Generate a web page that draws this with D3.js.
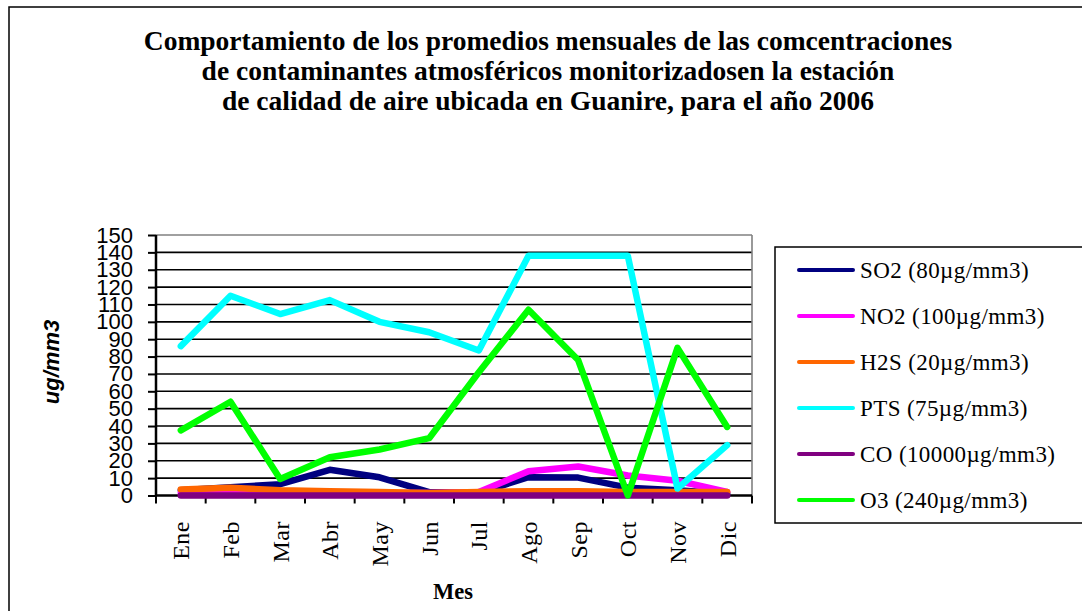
<!DOCTYPE html>
<html><head><meta charset="utf-8">
<script src="https://cdn.jsdelivr.net/npm/d3@7"></script>
<style>
html,body{margin:0;padding:0;background:#fff;}
svg{display:block;}
</style></head>
<body>
<svg id="chart" width="1082" height="611"></svg>
<script>
const months = ["Ene","Feb","Mar","Abr","May","Jun","Jul","Ago","Sep","Oct","Nov","Dic"];
const so2 = [3, 4.8, 6.5, 14.8, 10.5, 2, 1.5, 10.5, 10.3, 4.5, 3, 1];
const no2 = [1.5, 1.5, 1.5, 1.5, 1.5, 1.5, 2, 14, 16.7, 11.5, 8.5, 2];
const h2s = [3.5, 4.5, 3, 2.5, 2, 1.5, 2, 2.5, 2.5, 2, 2, 2];
const pts = [86, 115, 104.5, 112.5, 100, 94, 83.5, 138, 138, 138, 4, 29];
const co  = [0, 0, 0, 0, 0, 0, 0, 0, 0, 0, 0, 0];
const o3  = [37.5, 54, 9.5, 22, 26.5, 33, 71, 107, 78, 0, 85, 39.5];
const seriesNames = ["SO2 (80µg/mm3)","NO2 (100µg/mm3)","H2S (20µg/mm3)","PTS (75µg/mm3)","CO (10000µg/mm3)","O3 (240µg/mm3)"];
const seriesColors = ["#000080","#FF00FF","#FF6600","#00FFFF","#800080","#00FF00"];
const yTicks = [0,10,20,30,40,50,60,70,80,90,100,110,120,130,140,150];
const titleLines = ["Comportamiento de los promedios mensuales de las comcentraciones",
  "de contaminantes atmosféricos monitorizadosen la estación",
  "de calidad de aire ubicada en Guanire, para el año 2006"];
const xTitle = "Mes";
const yTitle = "ug/mm3";

const seriesValues = [so2, no2, h2s, pts, co, o3];

const svg = d3.select("#chart");
const L = 156, R = 752, T = 235, B = 495.5;
const serif = "'Liberation Serif','Times New Roman',serif";
const sans = "'Liberation Sans', Arial, sans-serif";

// outer frame
svg.append("rect").attr("x",9).attr("y",7).attr("width",1100).attr("height",700)
  .attr("fill","#fff").attr("stroke","#000").attr("stroke-width",1.5);

const x = d3.scaleBand().domain(months).range([L,R]).paddingInner(0).paddingOuter(0);
const y = d3.scaleLinear().domain([0,150]).range([B,T]);

// grid
svg.append("g").selectAll("line").data(yTicks.filter(d=>d>0)).join("line")
  .attr("x1",L).attr("x2",R).attr("y1",d=>y(d)).attr("y2",d=>y(d))
  .attr("stroke",d=>d===150?"#808080":"#000").attr("stroke-width",1.6);
// right border
svg.append("line").attr("x1",R).attr("x2",R).attr("y1",T).attr("y2",B)
  .attr("stroke","#808080").attr("stroke-width",1.6);

// y axis
const yAxis = svg.append("g").attr("transform",`translate(${L},0)`)
  .call(d3.axisLeft(y).tickValues(yTicks).tickSize(8).tickPadding(15).tickFormat(d3.format("d")));
yAxis.select(".domain").attr("stroke","#000").attr("stroke-width",2.5).attr("d",`M0,${T}V${B}`);
yAxis.selectAll(".tick line").attr("stroke","#000").attr("stroke-width",2);
yAxis.selectAll(".tick text").attr("font-family",sans)
  .attr("font-size",22).attr("fill","#000");

// x axis
const xAxis = svg.append("g").attr("transform",`translate(0,${B})`)
  .call(d3.axisBottom(x).tickSize(0).tickFormat(""));
xAxis.select(".domain").attr("stroke","#000").attr("stroke-width",2.5).attr("d",`M${L},0H${R}`);
const edges = months.map(m=>x(m)).concat([R]);
xAxis.append("g").selectAll("line").data(edges).join("line")
  .attr("x1",d=>d).attr("x2",d=>d).attr("y1",0).attr("y2",8)
  .attr("stroke","#000").attr("stroke-width",2);
xAxis.append("g").selectAll("text").data(months).join("text")
  .attr("transform",d=>`translate(${x(d)+x.bandwidth()/2},${521-B}) rotate(-90)`)
  .attr("text-anchor","end").attr("dy","0.35em")
  .attr("font-family",serif).attr("font-size",24).attr("letter-spacing",0.5)
  .attr("fill","#000").text(d=>d);

// lines
const line = d3.line().x((d,i)=>x(months[i])+x.bandwidth()/2).y(d=>y(d));
svg.append("g").selectAll("path").data(seriesValues).join("path")
  .attr("d",d=>line(d)).attr("fill","none")
  .attr("stroke",(d,i)=>seriesColors[i]).attr("stroke-width",6.5)
  .attr("stroke-linejoin","round").attr("stroke-linecap","round");

// titles
const title = svg.append("text").attr("font-family",serif)
  .attr("font-weight","bold").attr("font-size",27.5).attr("text-anchor","middle").attr("fill","#000");
titleLines.forEach((t,i)=>{
  title.append("tspan").attr("x",548).attr("y",50+i*30).text(t);
});
svg.append("text").attr("x",453).attr("y",599).attr("text-anchor","middle")
  .attr("font-family",serif).attr("font-weight","bold")
  .attr("font-size",22.5).text(xTitle);
svg.append("text").attr("transform","translate(51,362) rotate(-90)").attr("text-anchor","middle")
  .attr("dy","0.35em")
  .attr("font-family",sans).attr("font-weight","bold")
  .attr("font-style","italic").attr("font-size",22).text(yTitle);

// legend
const lg = svg.append("g");
lg.append("rect").attr("x",775).attr("y",247).attr("width",400).attr("height",276)
  .attr("fill","#fff").attr("stroke","#000").attr("stroke-width",1.5);
const rows = lg.selectAll("g.row").data(seriesNames).join("g").attr("class","row")
  .attr("transform",(d,i)=>`translate(0,${270+i*46})`);
rows.append("line").attr("x1",799).attr("x2",853).attr("y1",0).attr("y2",0)
  .attr("stroke",(d,i)=>seriesColors[i]).attr("stroke-width",4).attr("stroke-linecap","round");
rows.append("text").attr("x",860).attr("y",0).attr("dy","0.33em")
  .attr("font-family",serif).attr("font-size",23).attr("letter-spacing",0.4)
  .attr("fill","#000").text(d=>d);
</script>
</body></html>
